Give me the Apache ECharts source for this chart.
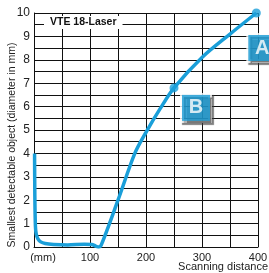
<!DOCTYPE html>
<html>
<head>
<meta charset="utf-8">
<script src="https://cdn.jsdelivr.net/npm/echarts@6/dist/echarts.min.js"></script>
<style>
  html, body { margin: 0; padding: 0; background: #fff; }
  #chart { width: 269px; height: 273px; }
</style>
</head>
<body>
<div id="chart"></div>
<script>
// scanning distance (mm) and smallest detectable object (mm)
const distance = [1, 1.5, 2.5, 4, 7, 12, 20, 35, 60, 90, 103, 110, 115, 120, 150, 180, 200, 225, 250, 300, 350, 397];
const diameter = [4.0, 2.2, 0.9, 0.55, 0.35, 0.22, 0.15, 0.11, 0.09, 0.12, 0.11, 0.04, 0.0, 0.08, 2.0, 4.0, 4.9, 5.9, 6.8, 8.1, 9.1, 10.0];
// marked points B and A
const markLabels = ["B", "A"];
const markX = [250, 397];
const markY = [6.8, 10.0];

const blue = "#1a9fd9";
const chart = echarts.init(document.getElementById("chart"));

const options = {
  animation: false,
  title: {
    text: "VTE 18-Laser",
    left: 44,
    top: 16,
    padding: [1, 6],
    backgroundColor: "#fff",
    textStyle: { fontFamily: "Liberation Sans", fontSize: 10.5, fontWeight: "bold", color: "#111" }
  },
  grid: { left: 34, right: 11, top: 13, bottom: 26, outerBoundsMode: "none", containLabel: false },
  xAxis: {
    type: "value",
    min: 0,
    max: 400,
    interval: 50,
    name: "Scanning distance",
    nameLocation: "end",
    nameGap: 10,
    nameMoveOverlap: false,
    nameTextStyle: {
      fontFamily: "Liberation Sans", fontSize: 11, color: "#222",
      align: "right", verticalAlign: "top", padding: [14, 0, 0, 0]
    },
    axisLine: { lineStyle: { color: "#111", width: 1 } },
    axisTick: { show: false },
    splitLine: { show: true, lineStyle: { color: "#111", width: 1 } },
    axisLabel: {
      margin: 5,
      fontFamily: "Liberation Sans",
      fontSize: 11,
      color: "#222",
      formatter: v => (v === 0 ? "{mm|(mm)}" : v % 100 === 0 ? String(v) : ""),
      rich: { mm: { fontFamily: "Liberation Sans", fontSize: 11, color: "#222", padding: [0, 0, 0, 18] } }
    }
  },
  yAxis: {
    type: "value",
    min: 0,
    max: 10,
    interval: 0.5,
    name: "Smallest detectable object (diameter in mm)",
    nameLocation: "middle",
    nameGap: 16,
    nameMoveOverlap: false,
    nameTextStyle: { fontFamily: "Liberation Sans", fontSize: 10.5, color: "#222", padding: [0, 30, 0, 0] },
    axisLine: { show: true, lineStyle: { color: "#111", width: 1 } },
    axisTick: { show: false },
    splitLine: { show: true, lineStyle: { color: "#111", width: 1 } },
    axisLabel: {
      margin: 4,
      fontFamily: "Liberation Sans",
      fontSize: 12,
      color: "#222",
      formatter: v => (Number.isInteger(v) ? String(v) : "")
    }
  },
  series: [
    {
      type: "line",
      data: distance.map((d, i) => [d, diameter[i]]),
      smooth: 0.3,
      showSymbol: false,
      lineStyle: { color: blue, width: 3.5 },
      z: 3
    },
    {
      type: "scatter",
      data: markX.map((d, i) => ({
        value: [d, markY[i]],
        label: { formatter: markLabels[i], offset: i === 0 ? [22, 20] : [6, 35] }
      })),
      symbol: "circle",
      symbolSize: 9,
      itemStyle: { color: blue },
      z: 4,
      label: {
        show: true,
        position: "inside",
        color: "#fff",
        fontFamily: "Liberation Sans",
        fontSize: 20,
        fontWeight: "bold",
        backgroundColor: blue,
        borderColor: "#fff",
        borderWidth: 2,
        width: 28,
        height: 26,
        lineHeight: 26,
        align: "center",
        verticalAlign: "middle",
        shadowColor: "rgba(60,60,60,0.8)",
        shadowBlur: 1,
        shadowOffsetX: 2,
        shadowOffsetY: 2
      }
    }
  ]
};
chart.setOption(options);
</script>
</body>
</html>
